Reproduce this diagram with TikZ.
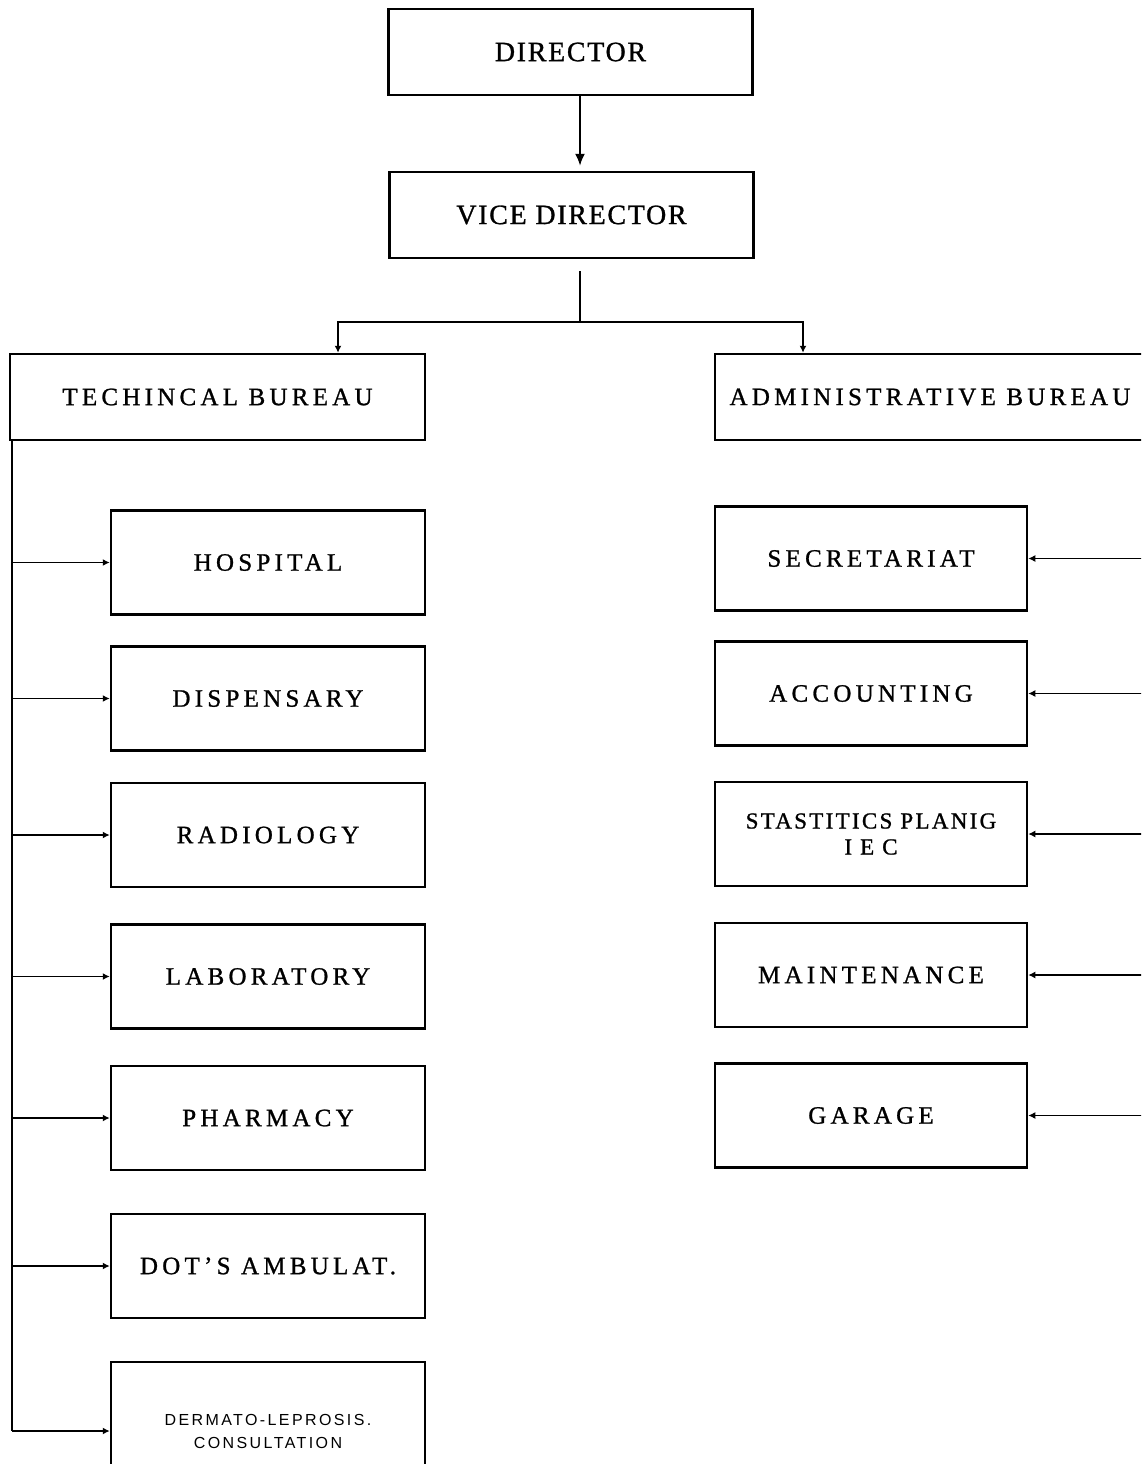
\documentclass[tikz,border=0pt]{standalone}
\usepackage{fontspec}
\setmainfont{Liberation Serif}
\newfontfamily\wideserif[LetterSpace=17, FakeBold=1]{Liberation Serif}
\newfontfamily\midserif[LetterSpace=10, FakeBold=1]{Liberation Serif}
\newfontfamily\narrowserif[LetterSpace=6, FakeBold=1]{Liberation Serif}
\newfontfamily\widesans[LetterSpace=15]{Liberation Sans}
\usetikzlibrary{arrows.meta}

\tikzset{
  box/.style={draw, line width=2.5pt, rectangle, align=center, inner sep=0pt},
  topbox/.style={box, minimum width=364pt, minimum height=86pt,
    font=\narrowserif\fontsize{28}{30}\selectfont},
  bureau/.style={box, minimum height=86pt, font=\wideserif\fontsize{25}{28}\selectfont},
  unitbox/.style={box, minimum width=314pt, minimum height=104pt,
    font=\wideserif\fontsize{25}{28}\selectfont},
  link/.style={line width=1.8pt},
  tip/.style={link, -{Latex[length=7pt,width=7pt]}},
}

\begin{document}
\begin{tikzpicture}[x=1pt,y=-1pt]
\useasboundingbox (0,0) rectangle (1141,1464);
\clip (0,0) rectangle (1141,1464);

% Head of the centre
\node[topbox] (dir) at (570.5,52) {DIRECTOR};
\node[topbox] (vice) at (571.5,215) {VICE DIRECTOR};

% The two bureaus
\node[bureau, minimum width=415pt] (tech) at (217.5,397) {TECHINCAL BUREAU};
\node[bureau, minimum width=430pt] (admin) at (930,397) {ADMINISTRATIVE BUREAU};

% Technical units
\node[unitbox] (hosp) at (268,562.5) {HOSPITAL};
\node[unitbox] (disp) at (268,698.5) {DISPENSARY};
\node[unitbox] (radio) at (268,835) {RADIOLOGY};
\node[unitbox] (lab) at (268,976.5) {LABORATORY};
\node[unitbox] (pharm) at (268,1118) {PHARMACY};
\node[unitbox] (dots) at (268,1266) {DOT’S AMBULAT.};
\node[unitbox, minimum height=138pt, font=\widesans\fontsize{16}{23}\selectfont]
  (derm) at (268,1431) {DERMATO-LEPROSIS.\\CONSULTATION};

% Administrative units
\node[unitbox, minimum width=312pt] (sec) at (871,558.5) {SECRETARIAT};
\node[unitbox, minimum width=312pt] (acc) at (871,693.5) {ACCOUNTING};
\node[unitbox, minimum width=312pt, font=\midserif\fontsize{23}{26}\selectfont]
  (stat) at (871,834) {STASTITICS PLANIG\\I E C};
\node[unitbox, minimum width=312pt] (maint) at (871,975) {MAINTENANCE};
\node[unitbox, minimum width=312pt] (gar) at (871,1115.5) {GARAGE};

% Director to vice director
\draw[link, -{Latex[length=12pt,width=10pt]}] ([xshift=9.5pt]dir.south)
  -- ([xshift=8.5pt, yshift=5pt]vice.north);

% Split to the bureaus
\coordinate (split) at (580,322);
\draw[link] ([xshift=8.5pt, yshift=-12pt]vice.south) -- (split);
\draw[tip] (split) -| ([xshift=120.5pt]tech.north);
\draw[tip] (split) -| ([xshift=-127pt]admin.north);

% Technical trunk
\coordinate (ltrunk) at (12,440);
\draw[link] (ltrunk) -- (ltrunk |- derm.west);
\foreach \u in {hosp,disp,radio,lab,pharm,dots,derm}
  \draw[tip] (ltrunk |- \u.west) -- (\u.west);

% Administrative feed from the right
\coordinate (rtrunk) at (1150,440);
\foreach \u in {sec,acc,stat,maint,gar}
  \draw[tip] (rtrunk |- \u.east) -- (\u.east);

\end{tikzpicture}
\end{document}
